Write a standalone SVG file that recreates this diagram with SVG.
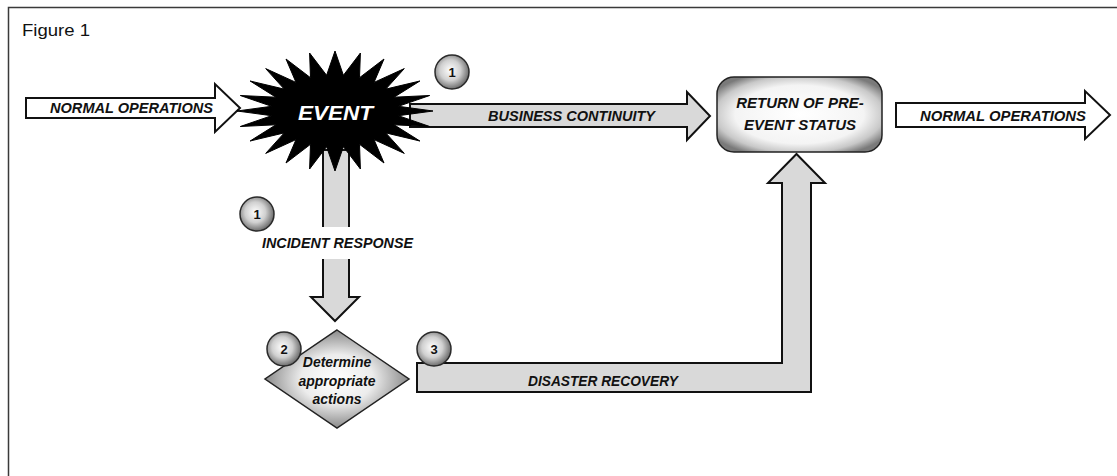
<svg xmlns="http://www.w3.org/2000/svg" width="1117" height="476" viewBox="0 0 1117 476">
<style>
.frame{fill:none;stroke:#3a3a3a;stroke-width:1.5}
.wa{fill:#ffffff;stroke:#111;stroke-width:2;stroke-linejoin:miter}
.ga{fill:#d9d9d9;stroke:#111;stroke-width:2;stroke-linejoin:miter}
.lbl{font-family:"Liberation Sans",Arial,sans-serif;font-weight:bold;font-style:italic;font-size:15px;fill:#111}
.num{font-family:"Liberation Sans",Arial,sans-serif;font-weight:bold;font-size:13px;fill:#111;text-anchor:middle}
.badge{fill:url(#gBadge);stroke:#2a2a2a;stroke-width:1.5}
.box{font-family:"Liberation Sans",Arial,sans-serif;font-weight:bold;font-style:italic;font-size:15px;fill:#111;text-anchor:middle}
.dtxt{font-family:"Liberation Sans",Arial,sans-serif;font-weight:bold;font-style:italic;font-size:14px;fill:#111;text-anchor:middle}
</style>
<defs>
<radialGradient id="gBadge" cx="0.45" cy="0.45" r="0.55">
<stop offset="0" stop-color="#ffffff"/>
<stop offset="0.55" stop-color="#d0d0d0"/>
<stop offset="1" stop-color="#6e6e6e"/>
</radialGradient>
<radialGradient id="gBox" cx="0.5" cy="0.5" r="0.6">
<stop offset="0" stop-color="#ffffff"/>
<stop offset="0.65" stop-color="#f4f4f4"/>
<stop offset="0.85" stop-color="#c8c8c8"/>
<stop offset="1" stop-color="#7a7a7a"/>
</radialGradient>
<radialGradient id="gDia" cx="0.5" cy="0.5" r="0.5">
<stop offset="0" stop-color="#ffffff"/>
<stop offset="0.5" stop-color="#ececec"/>
<stop offset="1" stop-color="#8a8a8a"/>
</radialGradient>
</defs>

<rect x="0" y="0" width="1117" height="476" fill="#ffffff"/>
<path class="frame" d="M8.5,476 V7.5 H1117"/>
<text x="22" y="36" font-family="'Liberation Sans',Arial,sans-serif" font-size="16" fill="#111" textLength="68" lengthAdjust="spacingAndGlyphs">Figure 1</text>

<g id="connectors">
<g id="normal-ops-in">
<polygon class="wa" points="26,98 215,98 215,84 240,108 215,132 215,118 26,118"/>
<text class="lbl" x="50" y="113" textLength="163" lengthAdjust="spacingAndGlyphs">NORMAL OPERATIONS</text>
</g>
<g id="business-continuity">
<polygon class="ga" points="410,104 687,104 687,92 710,116 687,140 687,127 410,127"/>
<text class="lbl" x="488" y="121" textLength="167" lengthAdjust="spacingAndGlyphs">BUSINESS CONTINUITY</text>
</g>
<g id="incident-response">
<polygon class="ga" points="323,150 349,150 349,297 359,297 335,321 311,297 323,297"/>
<rect x="316" y="227" width="40" height="32" fill="#ffffff"/>
<text class="lbl" x="262" y="248" textLength="151" lengthAdjust="spacingAndGlyphs">INCIDENT RESPONSE</text>
</g>
<g id="disaster-recovery">
<polygon class="ga" points="417,363 782,363 782,183 768,183 796.5,154 825,183 811,183 811,392 417,392"/>
<text class="lbl" x="528" y="386" textLength="150" lengthAdjust="spacingAndGlyphs">DISASTER RECOVERY</text>
</g>
<g id="normal-ops-out">
<polygon class="wa" points="896,103 1085,103 1085,91 1110,115 1085,139 1085,127 896,127"/>
<text class="lbl" x="920" y="121" textLength="166" lengthAdjust="spacingAndGlyphs">NORMAL OPERATIONS</text>
</g>
</g>

<g id="event">
<polygon fill="#000" stroke="#000" stroke-width="1" stroke-linejoin="miter" points="433,111 398.4,115.7 429.7,126.5 394.1,124.8 419.9,141 385.8,132.9 404.3,153.4 374,139.6 384,163 359.5,144.3 360.4,169 343.4,146.7 335,171 326.6,146.7 309.6,169 310.5,144.3 286,163 296,139.6 265.7,153.4 284.2,132.9 250.1,141 275.9,124.8 240.3,126.5 271.6,115.7 237,111 271.6,106.3 240.3,95.5 275.9,97.2 250.1,81 284.2,89.1 265.7,68.6 296,82.4 286,59 310.5,77.7 309.6,53 326.6,75.3 335,51 343.4,75.3 360.4,53 359.5,77.7 384,59 374,82.4 404.3,68.6 385.8,89.1 419.9,81 394.1,97.2 429.7,95.5 398.4,106.3"/>
<text x="298" y="120" font-family="'Liberation Sans',Arial,sans-serif" font-weight="bold" font-style="italic" font-size="21" fill="#ffffff" textLength="75" lengthAdjust="spacingAndGlyphs">EVENT</text>
</g>

<g id="return-status">
<rect x="717" y="77" width="165" height="75" rx="17" ry="17" fill="url(#gBox)" stroke="#222" stroke-width="1.5"/>
<text class="box" x="800" y="108">RETURN OF PRE-</text>
<text class="box" x="800" y="130">EVENT STATUS</text>
</g>

<g id="determine">
<polygon points="337,330 409,379 337,428 265,379" fill="url(#gDia)" stroke="#222" stroke-width="1.5"/>
<text class="dtxt" x="337" y="367">Determine</text>
<text class="dtxt" x="337" y="386">appropriate</text>
<text class="dtxt" x="337" y="404">actions</text>
</g>

<g id="badge-bc">
<circle class="badge" cx="452" cy="72" r="17"/>
<text class="num" x="452" y="77">1</text>
</g>
<g id="badge-ir">
<circle class="badge" cx="257" cy="214" r="17"/>
<text class="num" x="257" y="219">1</text>
</g>
<g id="badge-2">
<circle class="badge" cx="284" cy="349" r="17"/>
<text class="num" x="284" y="354">2</text>
</g>
<g id="badge-3">
<circle class="badge" cx="434" cy="349" r="17"/>
<text class="num" x="434" y="354">3</text>
</g>
</svg>
